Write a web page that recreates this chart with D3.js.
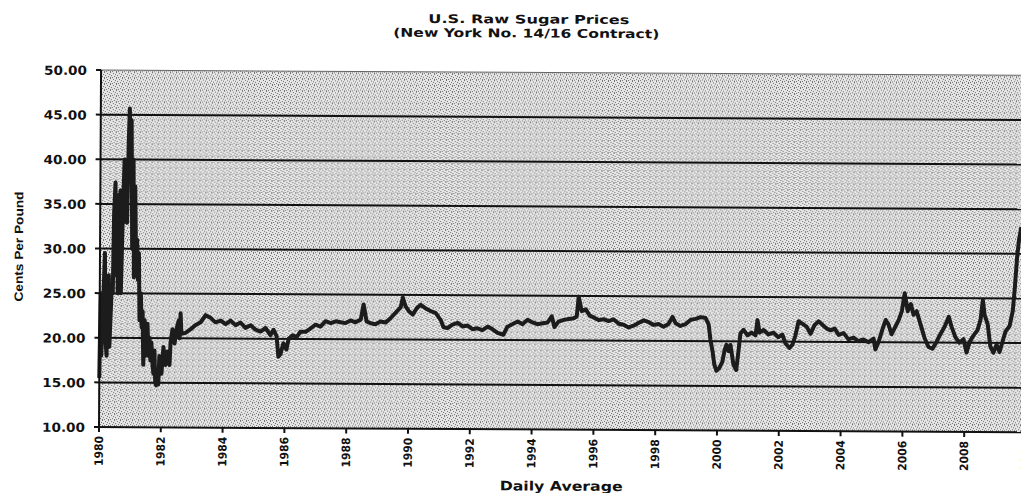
<!DOCTYPE html>
<meta charset="utf-8">
<style>
body{
  margin: 0;
  background: #fff;
  font-family: Arial, "Liberation Sans", sans-serif;
}
svg{ display: block; }
.lbl{ font-weight: bold; fill: #111; }
.heavy{ font-family: "DejaVu Sans", Arial, sans-serif; }
</style>
<div id="chart"></div>
<script src="https://cdn.jsdelivr.net/npm/d3@7/dist/d3.min.js"></script>
<script>
// readings, decimal year + cents per pound
var years = [
  1980.00,1980.03,1980.06,1980.13,1980.16,1980.19,1980.23,1980.26,1980.29,1980.32,
  1980.39,1980.42,1980.45,1980.49,1980.52,1980.55,1980.58,1980.61,1980.65,1980.68,
  1980.71,1980.74,1980.78,1980.81,1980.84,1980.87,1980.91,1980.94,1980.97,1981.00,
  1981.04,1981.07,1981.10,1981.13,1981.17,1981.20,1981.23,1981.26,1981.29,1981.33,
  1981.36,1981.39,1981.42,1981.46,1981.49,1981.52,1981.55,1981.59,1981.62,1981.65,
  1981.68,1981.72,1981.75,1981.78,1981.81,1981.84,1981.88,1981.91,1981.94,1982.01,
  1982.07,1982.14,1982.20,1982.27,1982.30,1982.36,1982.43,1982.49,1982.56,1982.59,
  1982.62,1982.65,1982.78,1982.94,1983.11,1983.27,1983.43,1983.59,1983.75,1983.92,
  1984.08,1984.24,1984.40,1984.56,1984.72,1984.89,1985.05,1985.21,1985.37,1985.53,
  1985.63,1985.73,1985.79,1985.86,1985.95,1986.05,1986.12,1986.25,1986.38,1986.50,
  1986.67,1986.83,1986.99,1987.15,1987.31,1987.48,1987.64,1987.80,1987.96,1988.12,
  1988.28,1988.45,1988.54,1988.64,1988.77,1988.93,1989.09,1989.26,1989.42,1989.58,
  1989.74,1989.81,1989.90,1990.00,1990.13,1990.26,1990.39,1990.55,1990.71,1990.87,
  1991.04,1991.13,1991.26,1991.42,1991.59,1991.75,1991.91,1992.07,1992.23,1992.39,
  1992.56,1992.72,1992.88,1993.07,1993.20,1993.37,1993.53,1993.69,1993.85,1994.01,
  1994.17,1994.34,1994.50,1994.63,1994.72,1994.85,1995.02,1995.18,1995.34,1995.44,
  1995.50,1995.60,1995.73,1995.86,1995.99,1996.15,1996.31,1996.47,1996.63,1996.80,
  1996.96,1997.12,1997.28,1997.44,1997.61,1997.77,1997.93,1998.09,1998.25,1998.41,
  1998.54,1998.64,1998.80,1998.96,1999.13,1999.29,1999.45,1999.61,1999.71,1999.77,
  1999.84,1999.90,1999.97,2000.06,2000.16,2000.23,2000.29,2000.36,2000.42,2000.52,
  2000.61,2000.68,2000.74,2000.84,2000.97,2001.10,2001.23,2001.29,2001.36,2001.49,
  2001.65,2001.81,2001.97,2002.10,2002.20,2002.33,2002.43,2002.52,2002.62,2002.75,
  2002.88,2003.01,2003.14,2003.27,2003.40,2003.53,2003.66,2003.79,2003.92,2004.08,
  2004.24,2004.40,2004.56,2004.72,2004.89,2005.05,2005.11,2005.21,2005.34,2005.44,
  2005.53,2005.63,2005.76,2005.86,2005.96,2006.05,2006.15,2006.25,2006.34,2006.44,
  2006.57,2006.70,2006.83,2006.96,2007.09,2007.22,2007.35,2007.48,2007.57,2007.70,
  2007.83,2007.96,2008.06,2008.16,2008.28,2008.41,2008.51,2008.58,2008.64,2008.74,
  2008.83,2008.93,2009.03,2009.13,2009.22,2009.32,2009.45,2009.55,2009.61,2009.68,
  2009.74,2009.81
]
var prices = [
  15.5,25.0,18.0,26.0,29.5,20.0,18.0,24.0,27.0,19.0,
  26.0,25.0,34.0,37.4,27.0,36.0,25.0,33.0,36.5,25.0,
  30.0,35.0,40.0,33.0,38.0,32.9,42.0,45.7,40.0,44.4,
  30.0,40.0,26.8,37.0,28.0,31.0,26.5,29.5,22.0,25.0,
  21.2,23.0,17.0,22.0,18.0,19.5,21.6,18.0,20.0,17.5,
  19.5,17.0,16.0,18.6,15.0,14.7,16.0,14.8,18.0,16.0,
  19.0,17.0,18.5,17.0,19.5,21.0,19.4,21.0,22.0,20.0,
  22.8,20.5,20.6,21.0,21.5,21.8,22.6,22.3,21.8,22.0,
  21.6,22.0,21.5,21.8,21.2,21.5,21.0,20.8,21.2,20.4,
  21.0,20.3,18.0,18.3,19.5,18.8,20.0,20.4,20.2,20.8,
  20.8,21.2,21.6,21.4,22.0,21.8,22.0,21.9,21.8,22.1,
  21.9,22.2,23.9,22.0,21.8,21.7,22.0,21.9,22.4,23.0,
  23.6,24.7,23.7,23.2,22.8,23.5,23.9,23.5,23.2,23.0,
  22.2,21.4,21.3,21.7,21.9,21.5,21.6,21.2,21.3,21.1,
  21.5,21.2,20.8,20.6,21.5,21.8,22.1,21.8,22.3,22.0,
  21.8,21.9,22.0,22.7,21.5,22.1,22.3,22.4,22.5,22.7,
  24.9,23.3,23.5,22.8,22.6,22.3,22.4,22.2,22.4,21.9,
  21.8,21.5,21.7,22.0,22.3,22.1,21.8,21.9,21.6,21.9,
  22.7,22.0,21.7,21.9,22.4,22.5,22.7,22.6,21.9,20.2,
  18.9,17.4,16.7,17.0,17.7,19.0,19.6,18.9,19.6,17.4,
  16.8,18.9,20.9,21.3,20.7,21.0,20.7,22.4,21.0,21.3,
  20.8,21.0,20.5,20.8,19.8,19.3,19.7,20.7,22.3,22.0,
  21.7,20.9,21.9,22.3,21.9,21.5,21.3,21.5,20.8,21.0,
  20.3,20.5,20.1,20.3,20.0,20.4,19.2,20.0,21.5,22.5,
  22.0,20.9,21.8,22.5,23.5,25.5,23.5,24.3,23.1,23.5,
  22.0,20.5,19.5,19.3,20.1,21.0,21.8,22.9,21.8,20.6,
  20.0,20.4,18.9,20.1,20.8,21.4,22.6,24.8,23.1,22.1,
  19.6,18.9,19.8,19.0,20.1,21.3,21.9,23.6,26.1,29.6,
  31.6,33.0
]
var yTicks = [10, 15, 20, 25, 30, 35, 40, 45, 50]
var xTicks = [1980, 1982, 1984, 1986, 1988, 1990, 1992, 1994, 1996, 1998, 2000, 2002, 2004, 2006, 2008, 2010]

var W = 1021, H = 493
var pLeft = 99, pRight = 1026, pTop = 70, pBottom = 427

var x = d3.scaleLinear().domain([1980, 2010]).range([pLeft, pRight])
var y = d3.scaleLinear().domain([10, 50]).range([pBottom, pTop])

var svg = d3.select('#chart').append('svg')
    .attr('width', W)
    .attr('height', H)

// halftone-ish fill for the plot area
var pat = svg.append('defs').append('pattern')
    .attr('id', 'dots')
    .attr('width', 6).attr('height', 6)
    .attr('patternUnits', 'userSpaceOnUse')
pat.append('rect').attr('width', 6).attr('height', 6).attr('fill', '#e6e6e6')
;[[0, 0], [3, 1], [5, 2], [1, 3], [4, 4], [2, 5], [0, 5]].forEach(function(p){
  pat.append('rect').attr('x', p[0]).attr('y', p[1])
      .attr('width', 1).attr('height', 1).attr('fill', '#707070')
})

// the scan is slightly tilted
var g = svg.append('g')
    .attr('transform', 'rotate(0.33,' + pLeft + ',' + pBottom + ')')

g.append('rect')
    .attr('x', pLeft).attr('y', pTop)
    .attr('width', pRight - pLeft + 10).attr('height', pBottom - pTop)
    .attr('fill', 'url(#dots)')

// grid
g.selectAll('.grid').data(yTicks.slice(1)).enter().append('line')
    .attr('x1', pLeft).attr('x2', pRight + 10)
    .attr('y1', d => y(d)).attr('y2', d => y(d))
    .attr('stroke', d => d == 50 ? '#666' : '#111')
    .attr('stroke-width', d => d == 50 ? 1 : 2)

// series
var line = d3.line()
    .x(d => x(d[0]))
    .y(d => y(d[1]))
g.append('path')
    .datum(d3.zip(years, prices))
    .attr('d', line)
    .attr('fill', 'none')
    .attr('stroke', '#1c1c1c')
    .attr('stroke-width', 4)
    .attr('stroke-linejoin', 'round')

// axes
g.append('line')
    .attr('x1', pLeft).attr('x2', pLeft).attr('y1', pTop).attr('y2', pBottom)
    .attr('stroke', '#111').attr('stroke-width', 2)
g.append('line')
    .attr('x1', pLeft - 5).attr('x2', pRight + 10).attr('y1', pBottom).attr('y2', pBottom)
    .attr('stroke', '#111').attr('stroke-width', 2)

g.selectAll('.ytick').data(yTicks).enter().append('line')
    .attr('x1', pLeft - 5).attr('x2', pLeft)
    .attr('y1', d => y(d)).attr('y2', d => y(d))
    .attr('stroke', '#111').attr('stroke-width', 2)

g.selectAll('.ylab').data(yTicks).enter().append('text')
    .attr('class', 'lbl heavy')
    .attr('x', 85).attr('y', d => y(d) + 5)
    .attr('text-anchor', 'end')
    .attr('textLength', 43).attr('lengthAdjust', 'spacingAndGlyphs')
    .style('font-size', '12.5px')
    .text(d => d3.format('.2f')(d))

g.selectAll('.xtick').data(xTicks).enter().append('line')
    .attr('x1', d => x(d)).attr('x2', d => x(d))
    .attr('y1', pBottom).attr('y2', pBottom + 5)
    .attr('stroke', '#111').attr('stroke-width', 2)

g.selectAll('.xlab').data(xTicks).enter().append('text')
    .attr('class', 'lbl heavy')
    .attr('transform', d => 'translate(' + (x(d) + 4) + ',' + (pBottom + 9) + ') rotate(-90)')
    .attr('text-anchor', 'end')
    .attr('textLength', 30).attr('lengthAdjust', 'spacingAndGlyphs')
    .style('font-size', '11.5px')
    .text(d => d)

// titles
g.append('text').attr('class', 'lbl heavy')
    .attr('x', 426).attr('y', 21)
    .attr('textLength', 201).attr('lengthAdjust', 'spacingAndGlyphs')
    .style('font-size', '12px')
    .text('U.S. Raw Sugar Prices')
g.append('text').attr('class', 'lbl heavy')
    .attr('x', 391).attr('y', 35)
    .attr('textLength', 266).attr('lengthAdjust', 'spacingAndGlyphs')
    .style('font-size', '12px')
    .text('(New York No. 14/16 Contract)')

g.append('text').attr('class', 'lbl heavy')
    .attr('x', 500).attr('y', 488)
    .attr('textLength', 123).attr('lengthAdjust', 'spacingAndGlyphs')
    .style('font-size', '13px')
    .text('Daily Average')

g.append('text').attr('class', 'lbl')
    .attr('transform', 'translate(22,' + 247 + ') rotate(-90)')
    .attr('text-anchor', 'middle')
    .attr('textLength', 110).attr('lengthAdjust', 'spacingAndGlyphs')
    .style('font-size', '12px')
    .text('Cents Per Pound')
</script>
